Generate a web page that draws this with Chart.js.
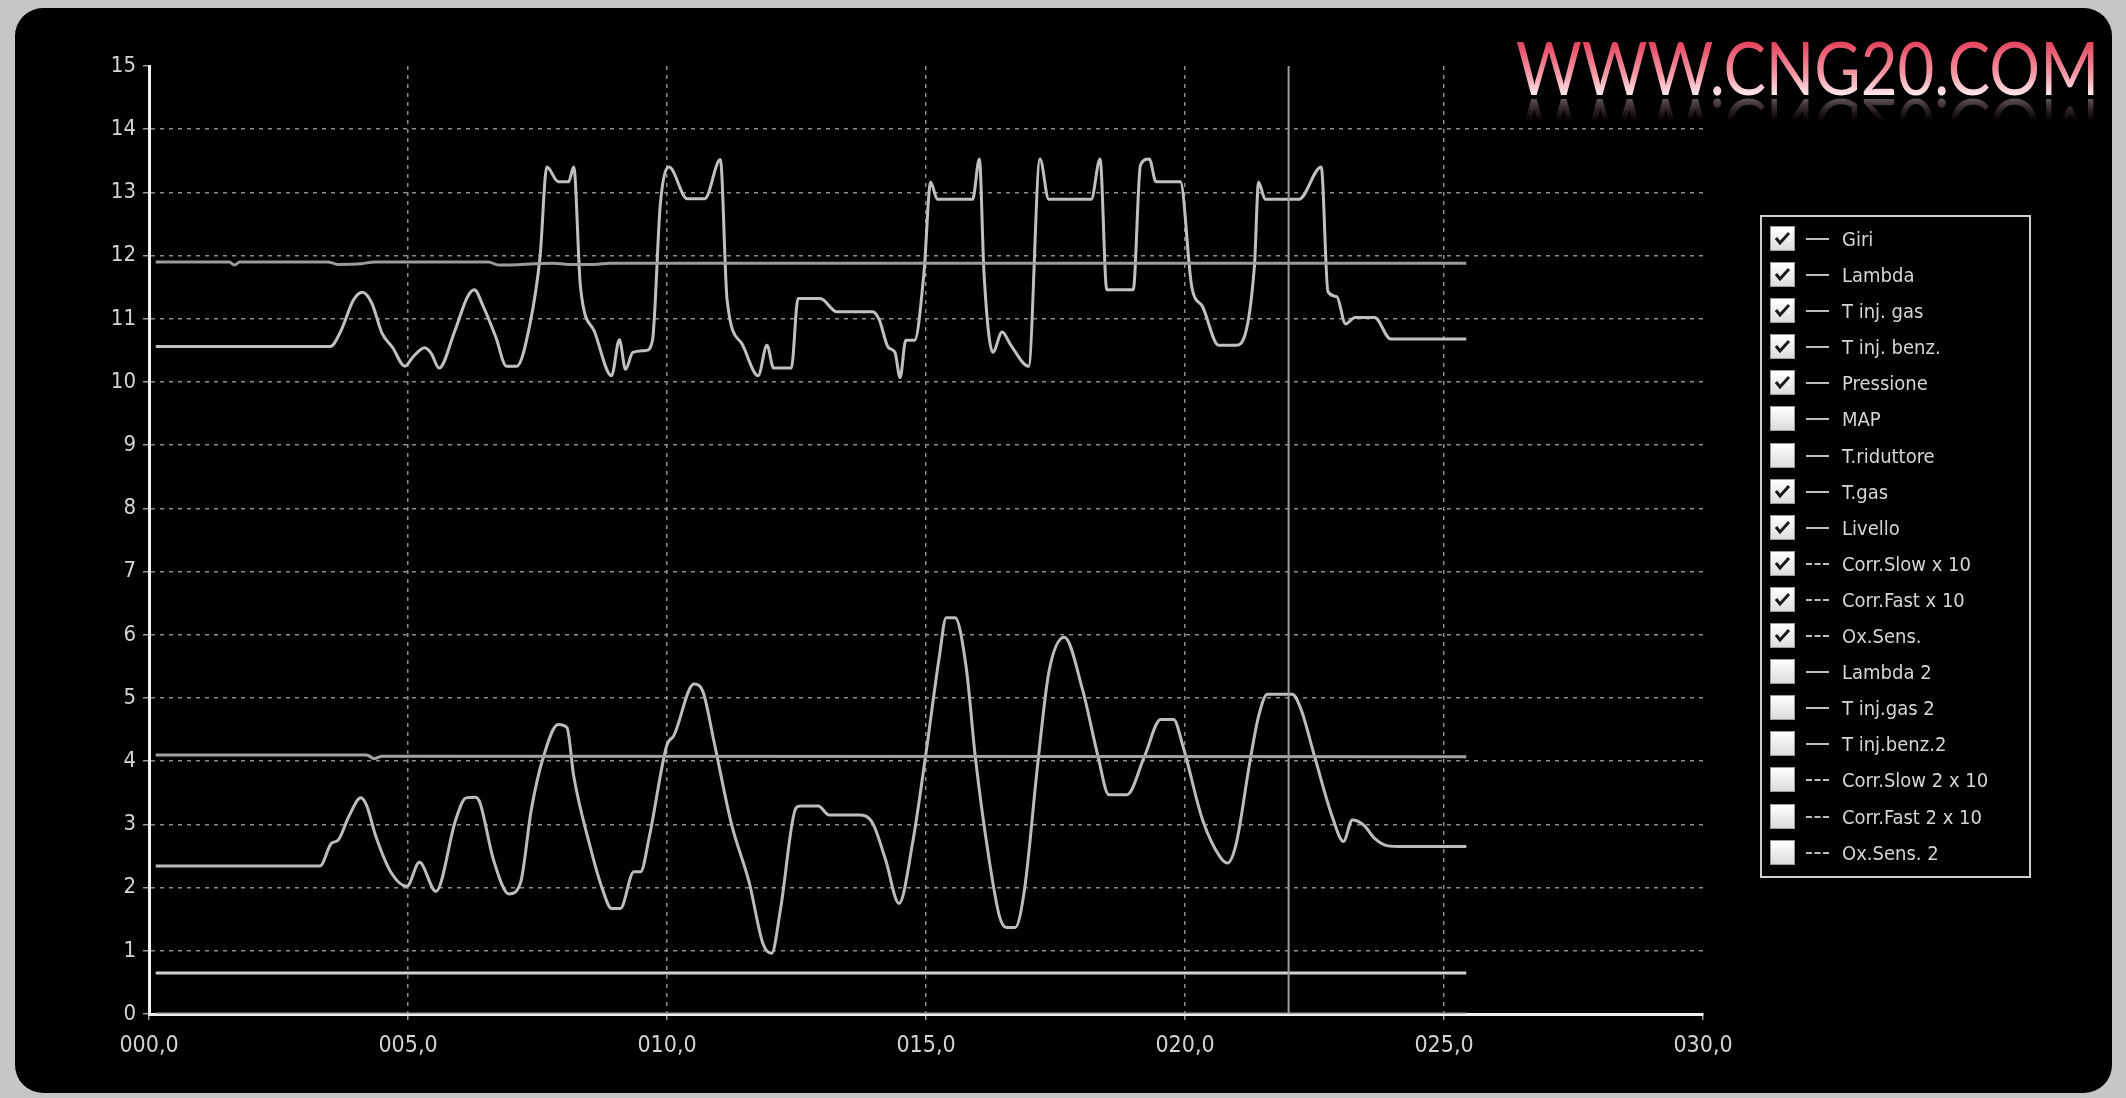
<!DOCTYPE html>
<html>
<head>
<meta charset="utf-8">
<script src="https://cdn.jsdelivr.net/npm/chart.js@4.4.1/dist/chart.umd.min.js"></script>
<style>
  html, body { margin: 0; padding: 0; }
  body { width: 2126px; height: 1098px; background: #c6c6c6; position: relative; overflow: hidden; }
  #panel { position: absolute; left: 15px; top: 8px; width: 2097px; height: 1085px; background: #000; border-radius: 28px; }
  #chart { position: absolute; left: 0; top: 0; }
  #mark {
    position: absolute; left: 1516px; top: 30px; font-family: Lato, "Open Sans", sans-serif; font-size: 74px; line-height: 1;
    white-space: nowrap; transform-origin: 0 0;
    background: linear-gradient(#e4405a 15%, #f59aa6 60%, #ffe9ec 88%);
    -webkit-background-clip: text; background-clip: text; color: transparent;
    -webkit-box-reflect: below -14px linear-gradient(transparent 58%, rgba(255,255,255,0.5));
  }
  #legend {
    position: absolute; left: 1760px; top: 215px; width: 271px; height: 663px; box-sizing: border-box;
    border: 2px solid #cfcfcf; padding-top: 4px;
    font-family: "DejaVu Sans Condensed", "DejaVu Sans", sans-serif; font-size: 20px; color: #d6d6d6;
  }
  .row { position: relative; height: 36.1px; }
  .box { position: absolute; left: 8px; top: 5px; width: 25px; height: 25px; box-sizing: border-box;
         background: linear-gradient(#ffffff, #dcdcdc); border: 1px solid #9a9a9a; }
  .box svg { position: absolute; left: 3px; top: 4px; }
  .sample { position: absolute; left: 44px; top: 17px; width: 23px; height: 0; border-top: 2px solid #bdbdbd; }
  .sample.dash { border-top: 2px dashed #bdbdbd; }
  .txt { position: absolute; left: 80px; top: 5px; line-height: 26px; }
</style>
</head>
<body>
<div id="panel"></div>
<canvas id="chart" width="2126" height="1098"></canvas>
<div id="mark">WWW.CNG20.COM</div>
<div id="legend"></div>
<script>
// axis ticks
const xTicks = [0, 5, 10, 15, 20, 25, 30];
const yTicks = [0, 1, 2, 3, 4, 5, 6, 7, 8, 9, 10, 11, 12, 13, 14, 15];
const cursorX = 22;

// upper wavy trace
const upperX = [0.13, 3.5, 3.7, 3.95, 4.12, 4.3, 4.5, 4.7, 4.94, 5.1, 5.32, 5.45, 5.6, 5.9, 6.15, 6.28, 6.45, 6.7, 6.9, 7.1,
  7.35, 7.55, 7.68, 7.9, 8.1, 8.2, 8.33, 8.6, 8.93, 9.08, 9.2, 9.34, 9.6, 9.72, 9.87, 10.04, 10.39, 10.73, 11.03, 11.16,
  11.45, 11.76, 11.93, 12.06, 12.4, 12.53, 12.96, 13.28, 13.97, 14.1, 14.27, 14.4, 14.5, 14.61, 14.78, 14.96, 15.09, 15.22, 15.9, 16.03,
  16.12, 16.29, 16.47, 16.64, 16.98, 17.2, 17.37, 18.19, 18.36, 18.49, 19.0, 19.14, 19.31, 19.44, 19.91, 20.13, 20.34, 20.65, 20.99, 21.34,
  21.42, 21.55, 22.2, 22.63, 22.76, 22.93, 23.1, 23.28, 23.66, 23.97, 25.43];
const upperY = [10.56, 10.56, 10.8, 11.3, 11.42, 11.25, 10.77, 10.55, 10.25, 10.4, 10.54, 10.45, 10.22, 10.8, 11.35, 11.46, 11.2, 10.7, 10.25, 10.25,
  10.9, 11.99, 13.4, 13.17, 13.17, 13.4, 11.5, 10.8, 10.1, 10.67, 10.2, 10.47, 10.5, 10.66, 12.8, 13.4, 12.9, 12.9, 13.52, 11.3,
  10.6, 10.1, 10.58, 10.22, 10.22, 11.32, 11.32, 11.11, 11.11, 10.98, 10.55, 10.47, 10.07, 10.66, 10.66, 11.72, 13.16, 12.89, 12.89, 13.53,
  11.72, 10.47, 10.79, 10.58, 10.25, 13.53, 12.89, 12.89, 13.53, 11.46, 11.46, 13.43, 13.53, 13.17, 13.17, 11.51, 11.19, 10.58, 10.58, 11.83,
  13.16, 12.89, 12.89, 13.4, 11.43, 11.35, 10.92, 11.02, 11.02, 10.68, 10.68];

// lower wavy trace
const lowerX = [0.13, 3.3, 3.52, 3.65, 3.86, 4.09, 4.2, 4.38, 4.68, 4.98, 5.22, 5.54, 5.92, 6.12, 6.3, 6.39, 6.65, 6.95, 7.17, 7.38,
  7.6, 7.9, 8.07, 8.2, 8.5, 8.76, 8.93, 9.1, 9.36, 9.49, 9.66, 10.0, 10.13, 10.52, 10.69, 10.9, 11.24, 11.59, 11.85, 12.02,
  12.19, 12.49, 12.58, 12.92, 13.13, 13.71, 13.97, 14.22, 14.48, 14.74, 15.0, 15.26, 15.39, 15.56, 15.78, 15.95, 16.21, 16.42, 16.55, 16.72,
  16.9, 17.16, 17.37, 17.67, 18.02, 18.32, 18.53, 18.88, 19.22, 19.53, 19.78, 19.96, 20.34, 20.69, 20.82, 20.99, 21.25, 21.42, 21.59, 22.07,
  22.24, 22.5, 22.84, 23.06, 23.23, 23.45, 23.66, 23.92, 24.14, 25.43];
const lowerY = [2.34, 2.34, 2.7, 2.75, 3.13, 3.42, 3.3, 2.81, 2.23, 2.02, 2.4, 1.94, 3.07, 3.42, 3.43, 3.34, 2.44, 1.9, 2.07, 3.23,
  4.03, 4.58, 4.53, 3.76, 2.7, 1.96, 1.67, 1.67, 2.25, 2.25, 2.81, 4.26, 4.4, 5.22, 5.11, 4.34, 3.02, 2.07, 1.12, 0.96,
  1.65, 3.26, 3.29, 3.29, 3.15, 3.15, 3.02, 2.44, 1.75, 2.7, 4.13, 5.67, 6.27, 6.27, 5.46, 4.08, 2.49, 1.54, 1.37, 1.37,
  1.96, 3.98, 5.4, 5.96, 5.14, 4.08, 3.47, 3.47, 4.08, 4.66, 4.66, 4.24, 3.07, 2.47, 2.39, 2.7, 3.98, 4.71, 5.06, 5.06,
  4.82, 4.08, 3.13, 2.73, 3.07, 2.99, 2.78, 2.66, 2.65, 2.65];

// nearly flat traces
const flatHighX = [0.13, 1.55, 1.65, 1.75, 3.45, 3.65, 4.1, 4.35, 6.55, 6.75, 7.8, 8.1, 8.6, 8.9, 25.43];
const flatHighY = [11.9, 11.9, 11.85, 11.9, 11.9, 11.86, 11.87, 11.9, 11.9, 11.85, 11.88, 11.86, 11.86, 11.88, 11.88];
const flatMidX = [0.13, 4.2, 4.35, 4.5, 25.43];
const flatMidY = [4.1, 4.1, 4.04, 4.08, 4.07];
const flatLowX = [0.13, 25.43];
const flatLowY = [0.65, 0.65];
const zeroX = [0.13, 25.43];
const zeroY = [0, 0];

// legend
const legendLabels = ["Giri", "Lambda", "T inj. gas", "T inj. benz.", "Pressione", "MAP", "T.riduttore", "T.gas", "Livello",
  "Corr.Slow x 10", "Corr.Fast x 10", "Ox.Sens.", "Lambda 2", "T inj.gas 2", "T inj.benz.2", "Corr.Slow 2 x 10", "Corr.Fast 2 x 10", "Ox.Sens. 2"];
const legendChecked = [1, 1, 1, 1, 1, 0, 0, 1, 1, 1, 1, 1, 0, 0, 0, 0, 0, 0];
const legendDashed = [0, 0, 0, 0, 0, 0, 0, 0, 0, 1, 1, 1, 0, 0, 0, 1, 1, 1];

const pts = (xs, ys) => xs.map((x, i) => ({ x: x, y: ys[i] }));

const line = (data, color, width) => ({
  data: data,
  borderColor: color,
  borderWidth: width,
  pointRadius: 0,
  tension: 0.3,
  cubicInterpolationMode: "monotone",
  fill: false,
});

const cursorLine = {
  id: "cursorLine",
  afterDatasetsDraw(chart) {
    const { ctx, chartArea, scales } = chart;
    const px = scales.x.getPixelForValue(cursorX);
    ctx.save();
    ctx.strokeStyle = "#9c9c9c";
    ctx.lineWidth = 2;
    ctx.beginPath();
    ctx.moveTo(px, chartArea.top);
    ctx.lineTo(px, chartArea.bottom);
    ctx.stroke();
    ctx.restore();
  },
};

const gridColor = (ends) => (ctx) =>
  ctx.tick && ends.includes(ctx.tick.value) ? "rgba(0,0,0,0)" : "#8c8c8c";

new Chart(document.getElementById("chart"), {
  type: "line",
  data: {
    datasets: [
      line(pts(zeroX, zeroY), "#a4a4a4", 3),
      line(pts(flatLowX, flatLowY), "#d2d2d2", 3),
      line(pts(flatMidX, flatMidY), "#a2a2a2", 3),
      line(pts(flatHighX, flatHighY), "#9c9c9c", 3),
      line(pts(lowerX, lowerY), "#bcbcbc", 3),
      line(pts(upperX, upperY), "#c0c0c0", 3),
    ],
  },
  options: {
    responsive: false,
    animation: false,
    layout: { padding: { top: 66, right: 423, bottom: 0, left: 0 } },
    plugins: { legend: { display: false }, tooltip: { enabled: false } },
    scales: {
      x: {
        type: "linear",
        min: 0,
        max: 30,
        afterFit: (s) => { s.height = 84; },
        afterBuildTicks: (s) => { s.ticks = xTicks.map((v) => ({ value: v })); },
        ticks: {
          color: "#d4d4d4",
          font: { family: "DejaVu Sans Condensed", size: 23 },
          padding: 12,
          maxRotation: 0,
          autoSkip: false,
          callback: (v) => String(v).padStart(3, "0") + ",0",
        },
        grid: { color: gridColor([0, 30]), lineWidth: 1.5, tickLength: 6, tickColor: "#9a9a9a" },
        border: { color: "#f0f0f0", width: 3, dash: [4, 5] },
      },
      y: {
        min: 0,
        max: 15,
        afterFit: (s) => { s.width = 149; },
        afterBuildTicks: (s) => { s.ticks = yTicks.map((v) => ({ value: v })); },
        ticks: {
          color: "#d4d4d4",
          font: { family: "DejaVu Sans Condensed", size: 22 },
          padding: 7,
          autoSkip: false,
        },
        grid: { color: gridColor([0, 15]), lineWidth: 1.5, tickLength: 6, tickColor: "#9a9a9a" },
        border: { color: "#f0f0f0", width: 3, dash: [4, 5] },
      },
    },
  },
  plugins: [cursorLine],
});

// legend with checkboxes
const legend = document.getElementById("legend");
const tick = '<svg width="17" height="15" viewBox="0 0 17 15"><polyline points="2,7 6,12 15,2" fill="none" stroke="#1a1a1a" stroke-width="3"/></svg>';
legendLabels.forEach((label, i) => {
  const row = document.createElement("div");
  row.className = "row";
  row.innerHTML =
    '<div class="box">' + (legendChecked[i] ? tick : "") + "</div>" +
    '<div class="sample' + (legendDashed[i] ? " dash" : "") + '"></div>' +
    '<div class="txt">' + label + "</div>";
  legend.appendChild(row);
});

// watermark width
const mark = document.getElementById("mark");
const w = mark.getBoundingClientRect().width;
mark.style.transform = "scaleX(" + (583 / w).toFixed(3) + ")";
</script>
</body>
</html>
